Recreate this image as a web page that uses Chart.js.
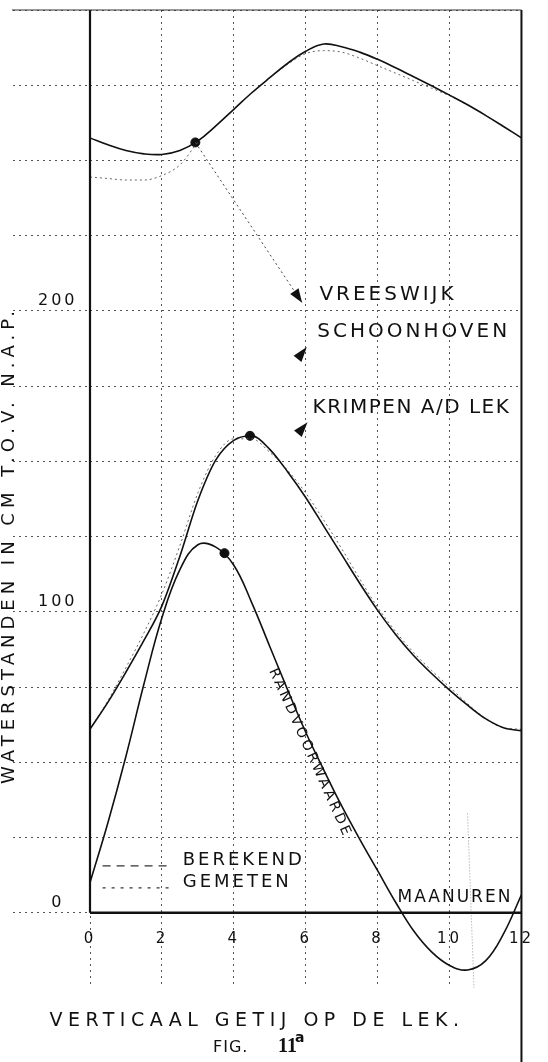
<!DOCTYPE html>
<html>
<head>
<meta charset="utf-8">
<script src="https://cdn.jsdelivr.net/npm/chart.js@4.4.0/dist/chart.umd.min.js"></script>
<style>
  html, body { margin: 0; padding: 0; background: #fff; }
  #wrap { width: 548px; height: 1062px; position: relative; }
</style>
</head>
<body>
<div id="wrap"><canvas id="myChart"></canvas></div>
<script>
// maanuren (hours of the lunar tide), every half hour
const hours = [0, 0.5, 1, 1.5, 2, 2.5, 3, 3.5, 4, 4.5, 5, 5.5, 6, 6.5, 7, 7.5, 8, 8.5, 9, 9.5, 10, 10.5, 11, 11.5, 12];

// waterstanden in cm t.o.v. NAP
const vreeswijkBerekend = [257.5, 255.2, 253.3, 252.2, 252, 253.3, 256.5, 261.5, 267, 272.5, 277.5, 282.3, 286.3, 288.7, 287.8, 286, 283.6, 280.8, 277.8, 274.8, 271.7, 268.5, 265, 261.3, 257.5];
const vreeswijkGemeten = [244.5, 244, 243.5, 243.5, 245, 248.5, 256, 261.5, 267, 272.5, 277.5, 282, 285.5, 286.5, 286, 284, 281.5, 279, 276.5, 274, 271.5, 268.5, 265, 261.3, 257.5];
const schoonhovenBerekend = [61, 70, 80, 90.5, 102, 118.5, 137, 150.5, 157, 158.5, 154, 146.5, 138, 128.5, 119, 109.5, 100.5, 92.5, 85.5, 79.5, 74, 69, 64.5, 61.5, 60.5];
const schoonhovenGemeten = [61, 70.5, 81.5, 93, 106, 122, 139.5, 152, 157.5, 157.5, 153, 147, 139.5, 130.5, 121, 111, 101.5, 93.5, 86.5, 80.5, 75, 69.5, 64.5, 61.5, 61];
const krimpenBerekend = [10, 30, 52, 76, 98, 114, 122.3, 121.5, 115.5, 103, 88.5, 74, 60, 47.5, 35.5, 24.5, 14, 3.5, -6, -13, -17.5, -19, -16, -7, 6];

// marked points on the curves
const markerHours = [2.93, 4.45, 3.74];
const markerLevels = [256, 158.5, 119.5];

// faint check line near 10.6 h
const peilHours = [10.5, 10.68];
const peilLevels = [33, -25];

const xTicks = [0, 2, 4, 6, 8, 10, 12];
const yLabels = [0, 100, 200];

const stations = ["VREESWIJK", "SCHOONHOVEN", "KRIMPEN A/D LEK"];
const legendTexts = ["BEREKEND", "GEMETEN"];
const yTitle = "WATERSTANDEN IN CM T.O.V. N.A.P.";
const mainTitle = "VERTICAAL GETIJ OP DE LEK.";

const FONT = '"DejaVu Sans", sans-serif';
const INK = "#111";
const GRID = "#555";

function pts(xs, ys) {
  return xs.map((x, i) => ({ x: x, y: ys[i] }));
}

function txt(ctx, text, x, y, size, spacing, align, angle, font) {
  ctx.save();
  ctx.translate(x, y);
  if (angle) ctx.rotate(angle);
  ctx.font = font || size + "px " + FONT;
  ctx.letterSpacing = spacing + "px";
  ctx.textAlign = align || "left";
  ctx.textBaseline = "middle";
  ctx.fillStyle = INK;
  ctx.fillText(text, 0, 0);
  ctx.restore();
}

function arrowHead(ctx, x0, y0, x1, y1, len, half) {
  const a = Math.atan2(y1 - y0, x1 - x0);
  ctx.save();
  ctx.fillStyle = INK;
  ctx.beginPath();
  ctx.moveTo(x1, y1);
  ctx.lineTo(x1 - len * Math.cos(a) + half * Math.sin(a), y1 - len * Math.sin(a) - half * Math.cos(a));
  ctx.lineTo(x1 - len * Math.cos(a) - half * Math.sin(a), y1 - len * Math.sin(a) + half * Math.cos(a));
  ctx.closePath();
  ctx.fill();
  ctx.restore();
}

const annotate = {
  id: "annotate",
  beforeDraw(chart) {
    chart.ctx.letterSpacing = "3px";
  },
  afterDraw(chart) {
    const ctx = chart.ctx;
    const x = chart.scales.x;
    const y = chart.scales.y;
    ctx.letterSpacing = "0px";

    // heavy axis lines and frame
    ctx.save();
    ctx.strokeStyle = INK;
    ctx.lineWidth = 2.2;
    ctx.beginPath();
    ctx.moveTo(x.getPixelForValue(0), y.getPixelForValue(300));
    ctx.lineTo(x.getPixelForValue(0), y.getPixelForValue(0));
    ctx.stroke();
    ctx.lineWidth = 2.5;
    ctx.beginPath();
    ctx.moveTo(x.getPixelForValue(0), y.getPixelForValue(0));
    ctx.lineTo(x.getPixelForValue(12), y.getPixelForValue(0));
    ctx.stroke();
    ctx.lineWidth = 2;
    ctx.beginPath();
    ctx.moveTo(x.getPixelForValue(12), y.getPixelForValue(300));
    ctx.lineTo(x.getPixelForValue(12), chart.height);
    ctx.stroke();
    ctx.lineWidth = 1;
    ctx.strokeStyle = "#333";
    ctx.beginPath();
    ctx.moveTo(12, y.getPixelForValue(300));
    ctx.lineTo(x.getPixelForValue(12), y.getPixelForValue(300));
    ctx.stroke();

    // leader from Vreeswijk point to its label
    const lx0 = x.getPixelForValue(markerHours[0]), ly0 = y.getPixelForValue(markerLevels[0]);
    const lx1 = x.getPixelForValue(5.9), ly1 = y.getPixelForValue(202.7);
    ctx.strokeStyle = "#444";
    ctx.setLineDash([2, 3]);
    ctx.beginPath();
    ctx.moveTo(lx0, ly0);
    ctx.lineTo(lx1, ly1);
    ctx.stroke();
    ctx.setLineDash([]);
    ctx.restore();
    arrowHead(ctx, lx0, ly0, lx1, ly1, 14, 5);
    arrowHead(ctx, x.getPixelForValue(5.7), y.getPixelForValue(183), x.getPixelForValue(6.03), y.getPixelForValue(188), 15, 5);
    arrowHead(ctx, x.getPixelForValue(5.7), y.getPixelForValue(158), x.getPixelForValue(6.05), y.getPixelForValue(163), 15, 5);

    // station names
    txt(ctx, stations[0], x.getPixelForValue(6.38), y.getPixelForValue(205.3), 20, 3);
    txt(ctx, stations[1], x.getPixelForValue(6.32), y.getPixelForValue(193), 20, 3);
    txt(ctx, stations[2], x.getPixelForValue(6.19), y.getPixelForValue(167.8), 20, 1.5);

    // curve notes
    txt(ctx, "RANDVOORWAARDE", x.getPixelForValue(6.12), y.getPixelForValue(53), 14, 3, "center", 1.15);
    txt(ctx, "MAANUREN", x.getPixelForValue(10.15), y.getPixelForValue(5), 17, 2, "center");

    // line legend
    const legY = [15.6, 8.3];
    const legDash = [[8, 6], [3, 6]];
    legendTexts.forEach((t, i) => {
      ctx.save();
      ctx.strokeStyle = "#333";
      ctx.lineWidth = 1.2;
      ctx.setLineDash(legDash[i]);
      ctx.beginPath();
      ctx.moveTo(x.getPixelForValue(0.35), y.getPixelForValue(legY[i]));
      ctx.lineTo(x.getPixelForValue(2.2), y.getPixelForValue(legY[i]));
      ctx.stroke();
      ctx.restore();
      txt(ctx, t, x.getPixelForValue(2.58), y.getPixelForValue(legY[i] + 1.8), 18, 3);
    });

    // y title (cut at the page edge like the scan)
    txt(ctx, yTitle, 9, 545, 18, 5, "center", -Math.PI / 2);

    // figure title
    txt(ctx, mainTitle, 257, 1021, 19, 5.5, "center");
    txt(ctx, "FIG.", 213, 1048, 16, 1);
    txt(ctx, "11", 278, 1047, 0, 0, "left", 0, 'bold 20px "Liberation Serif", serif');
    txt(ctx, "a", 295, 1038, 0, 0, "left", 0, 'bold 14px "DejaVu Sans", sans-serif');
  }
};

const smooth = { pointRadius: 0, tension: 0.4, cubicInterpolationMode: "monotone" };

const ctx = document.getElementById("myChart").getContext("2d");
const myChart = new Chart(ctx, {
  type: "line",
  data: {
    datasets: [
      {
        label: "Vreeswijk berekend",
        data: pts(hours, vreeswijkBerekend),
        borderColor: INK,
        borderWidth: 1.6,
        pointRadius: 0,
        tension: 0.4
      },
      Object.assign({ label: "Vreeswijk gemeten", data: pts(hours, vreeswijkGemeten), borderColor: "#666", borderWidth: 1, borderDash: [2, 3] }, smooth),
      Object.assign({ label: "Schoonhoven berekend", data: pts(hours, schoonhovenBerekend), borderColor: INK, borderWidth: 1.6 }, smooth),
      Object.assign({ label: "Schoonhoven gemeten", data: pts(hours, schoonhovenGemeten), borderColor: "#666", borderWidth: 1, borderDash: [2, 3] }, smooth),
      {
        label: "Krimpen a/d Lek (randvoorwaarde)",
        data: pts(hours, krimpenBerekend),
        borderColor: INK,
        borderWidth: 1.6,
        pointRadius: 0,
        tension: 0.4
      },
      {
        label: "punten",
        type: "scatter",
        data: pts(markerHours, markerLevels),
        pointRadius: 4.5,
        pointBackgroundColor: INK,
        pointBorderColor: INK,
        showLine: false
      },
      {
        label: "peil",
        data: pts(peilHours, peilLevels),
        borderColor: "#999",
        borderWidth: 1,
        borderDash: [1, 2],
        pointRadius: 0
      }
    ]
  },
  options: {
    responsive: true,
    maintainAspectRatio: false,
    animation: false,
    layout: { padding: { left: 0, right: 11, top: 10, bottom: 74 } },
    plugins: {
      legend: { display: false },
      tooltip: { enabled: false }
    },
    scales: {
      x: {
        type: "linear",
        position: { y: 0 },
        min: 0,
        max: 12,
        afterBuildTicks(scale) {
          scale.ticks = xTicks.map(v => ({ value: v }));
        },
        ticks: { padding: 17, color: INK, font: { family: FONT, size: 15 } },
        grid: { color: GRID, lineWidth: 1, drawTicks: false },
        border: { display: false, dash: [2, 4] }
      },
      y: {
        type: "linear",
        min: -25,
        max: 300,
        afterFit(scale) {
          scale.width = 90;
        },
        ticks: {
          stepSize: 25,
          autoSkip: false,
          crossAlign: "center",
          padding: -60,
          color: INK,
          font: { family: FONT, size: 16 },
          callback: v => (yLabels.includes(v) ? [String(v), ""] : "")
        },
        grid: {
          color: c => (c.tick && c.tick.value === -25 ? "rgba(0,0,0,0)" : GRID),
          tickColor: c => (c.tick && c.tick.value === -25 ? "rgba(0,0,0,0)" : GRID),
          tickLength: 77,
          tickBorderDash: [2, 4],
          lineWidth: 1
        },
        border: { display: false, dash: [2, 4] }
      }
    }
  },
  plugins: [annotate]
});
</script>
</body>
</html>
